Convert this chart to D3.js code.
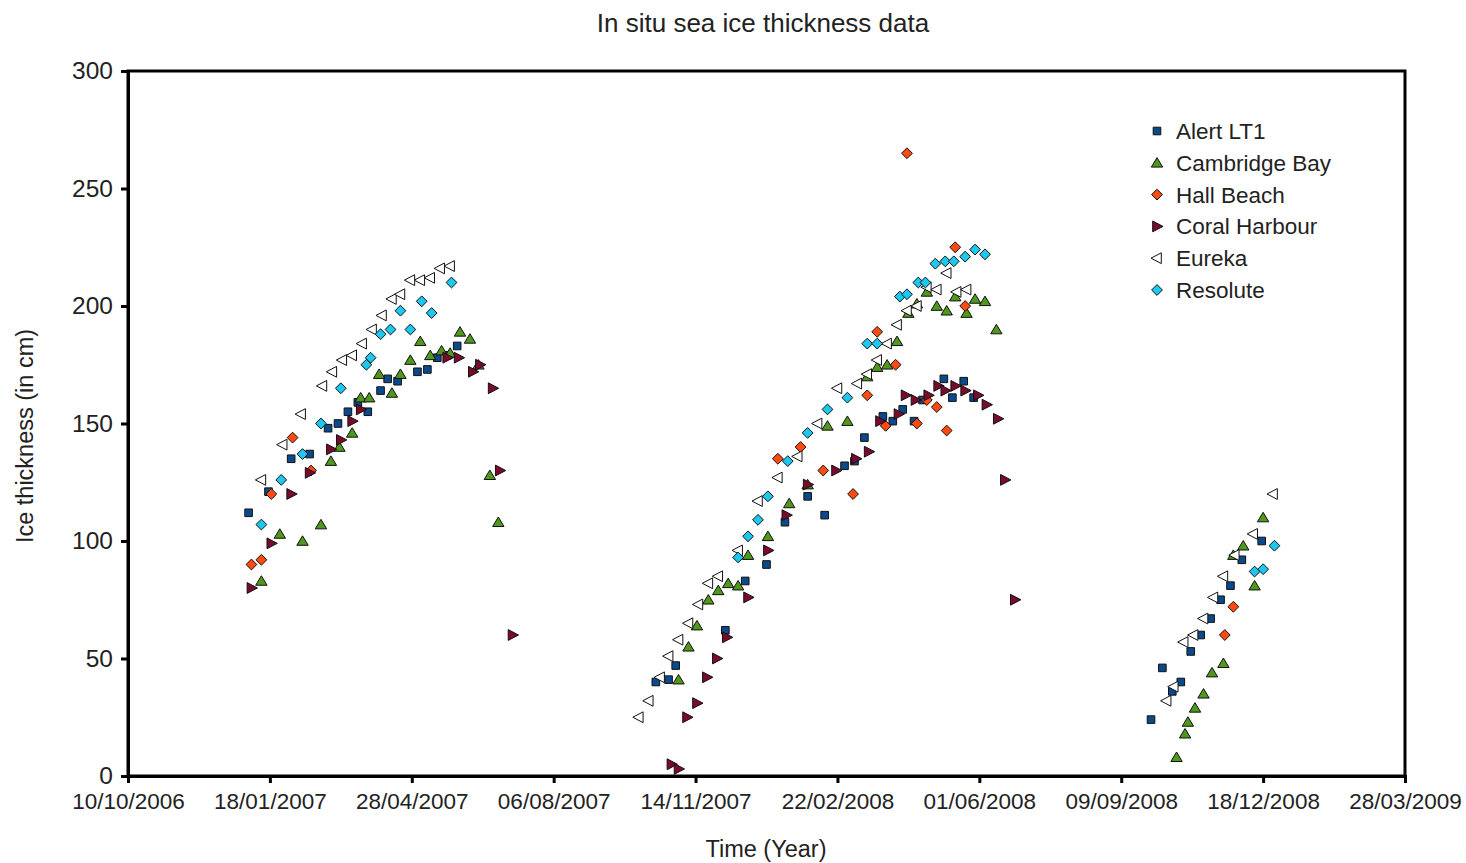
<!DOCTYPE html>
<html>
<head>
<meta charset="utf-8">
<script src="https://cdn.jsdelivr.net/npm/d3@7"></script>
<style>
  body { margin: 0; background: #fff; }
  svg { font-family: "Liberation Sans", Arial, sans-serif; }
</style>
</head>
<body>
<svg id="chart" width="1466" height="863"></svg>
<script>
// x values are days after 10/10/2006, y values are ice thickness in cm
const startDate = new Date(Date.UTC(2006, 9, 10));
const tickDays = [0, 100, 200, 300, 400, 500, 600, 700, 800, 900];
const yTicks = [0, 50, 100, 150, 200, 250, 300];

const alertDays = [85, 99, 115, 128, 141, 148, 155, 162, 169, 178, 183, 190, 204, 211, 218, 225, 232,
  372, 381, 386, 421, 435, 450, 463, 479, 491, 505, 512, 519, 532, 539, 546, 554, 560, 575, 581, 589, 596,
  721, 729, 736, 742, 749, 756, 763, 770, 777, 785, 799];
const alertCm = [112, 121, 135, 137, 148, 150, 155, 159, 155, 164, 169, 168, 172, 173, 178, 179, 183,
  40, 41, 47, 62, 83, 90, 108, 119, 111, 132, 134, 144, 153, 151, 156, 151, 160, 169, 161, 168, 161,
  24, 46, 36, 40, 53, 60, 67, 75, 81, 92, 100];

const cambridgeDays = [94, 107, 123, 136, 143, 149, 158, 164, 170, 177, 186, 192, 199, 206, 213, 221, 227, 234, 241, 247, 255, 261,
  388, 395, 401, 409, 416, 423, 430, 437, 451, 466, 479, 493, 507, 521, 528, 535, 542, 550, 556, 563, 570, 577, 583, 591, 597, 604, 612,
  739, 745, 747, 752, 758, 764, 772, 779, 786, 794, 800];
const cambridgeCm = [83, 103, 100, 107, 134, 140, 146, 161, 161, 171, 163, 171, 177, 185, 179, 181, 180, 189, 186, 175, 128, 108,
  41, 55, 64, 75, 79, 82, 81, 94, 102, 116, 124, 149, 151, 170, 174, 175, 185, 197, 201, 206, 200, 198, 204, 197, 203, 202, 190,
  8, 18, 23, 29, 35, 44, 48, 94, 98, 81, 110];

const hallDays = [87, 94, 101, 116, 129,
  458, 474, 490, 511, 521, 528, 534, 541, 549, 556, 563, 570, 577, 583, 590,
  773, 779];
const hallCm = [90, 92, 120, 144, 130,
  135, 140, 130, 120, 162, 189, 149, 175, 265, 150, 160, 157, 147, 225, 200,
  60, 72];

const coralDays = [87, 101, 115, 128, 143, 150, 158, 164, 225, 233, 243, 248, 257, 262, 271,
  383, 388, 394, 401, 408, 415, 422, 437, 451, 464, 479, 499, 513, 522, 530, 543, 548, 555, 564, 571, 576, 583, 590, 599, 605, 613, 618, 625];
const coralCm = [80, 99, 120, 129, 139, 143, 151, 156, 178, 178, 172, 175, 165, 130, 60,
  5, 3, 25, 31, 42, 50, 59, 76, 96, 111, 124, 130, 135, 138, 151, 154, 162, 160, 162, 166, 164, 166, 164, 162, 158, 152, 126, 75];

const eurekaDays = [94, 109, 122, 137, 144, 151, 158, 165, 172, 179, 186, 192, 199, 206, 213, 220, 227,
  360, 367, 375, 381, 388, 395, 402, 409, 416, 430, 444, 458, 472, 486, 500, 514, 521, 528, 535, 542, 549, 556, 563, 570, 577, 584, 591,
  732, 737, 744, 751, 758, 765, 772, 780, 793, 807];
const eurekaCm = [126, 141, 154, 166, 172, 177, 179, 184, 190, 196, 203, 205, 211, 211, 212, 216, 217,
  25, 32, 42, 51, 58, 65, 73, 82, 85, 96, 117, 127, 136, 150, 165, 167, 171, 177, 184, 192, 198, 200, 208, 207, 214, 206, 207,
  32, 38, 57, 60, 67, 76, 85, 94, 103, 120];

const resoluteDays = [94, 108, 123, 136, 150, 168, 171, 178, 185, 192, 199, 207, 214, 228,
  430, 437, 444, 451, 465, 479, 493, 507, 521, 528, 544, 549, 557, 562, 569, 576, 582, 590, 597, 604,
  794, 800, 808];
const resoluteCm = [107, 126, 137, 150, 165, 175, 178, 188, 190, 198, 190, 202, 197, 210,
  93, 102, 109, 119, 134, 146, 156, 161, 184, 184, 204, 205, 210, 210, 218, 219, 219, 221, 224, 222,
  87, 88, 98];

const stations = ["Alert LT1", "Cambridge Bay", "Hall Beach", "Coral Harbour", "Eureka", "Resolute"];
const stationDays = [alertDays, cambridgeDays, hallDays, coralDays, eurekaDays, resoluteDays];
const stationCm = [alertCm, cambridgeCm, hallCm, coralCm, eurekaCm, resoluteCm];

const fills = ["#0b4a8a", "#4f981c", "#ff4b12", "#7a0a2a", "#ffffff", "#1cc8ef"];
const shapes = [
  "M-3.8,-3.8h7.6v7.6h-7.6Z",
  "M0,-5.2L5.7,4.3L-5.7,4.3Z",
  "M0,-5.4L5.4,0L0,5.4L-5.4,0Z",
  "M-4.3,-5.4L6,0L-4.3,5.4Z",
  "M4.3,-5.4L-6,0L4.3,5.4Z",
  "M0,-5.4L5.4,0L0,5.4L-5.4,0Z"
];

const svg = d3.select("#chart");
const margin = { left: 128, right: 61, top: 71, bottom: 87 };
const width = +svg.attr("width");
const height = +svg.attr("height");

const day = d => d3.utcDay.offset(startDate, d);

const x = d3.scaleUtc()
  .domain([day(0), day(900)])
  .range([margin.left, width - margin.right]);
const y = d3.scaleLinear()
  .domain([0, 300])
  .range([height - margin.bottom, margin.top]);

const fmt = d3.utcFormat("%d/%m/%Y");

// frame
svg.append("rect")
  .attr("x", margin.left)
  .attr("y", margin.top)
  .attr("width", width - margin.right - margin.left)
  .attr("height", height - margin.bottom - margin.top)
  .attr("fill", "none")
  .attr("stroke", "#000")
  .attr("stroke-width", 3);

const xAxis = svg.append("g")
  .attr("transform", `translate(0,${height - margin.bottom})`)
  .call(d3.axisBottom(x).tickValues(tickDays.map(day)).tickFormat(fmt).tickSize(7).tickPadding(10));
xAxis.select(".domain").attr("stroke-width", 3);
xAxis.selectAll(".tick line").attr("stroke-width", 3);
xAxis.selectAll("text").attr("font-size", "22.5px").attr("fill", "#222").attr("font-family", "Liberation Sans, Arial, sans-serif");

const yAxis = svg.append("g")
  .attr("transform", `translate(${margin.left},0)`)
  .call(d3.axisLeft(y).tickValues(yTicks).tickSize(7).tickPadding(8));
yAxis.select(".domain").attr("stroke-width", 3);
yAxis.selectAll(".tick line").attr("stroke-width", 3);
yAxis.selectAll("text").attr("font-size", "24.5px").attr("fill", "#222").attr("font-family", "Liberation Sans, Arial, sans-serif");

// points
stations.forEach((name, i) => {
  const pts = stationDays[i].map((d, j) => ({ d: d, v: stationCm[i][j] }));
  svg.append("g").selectAll("path")
    .data(pts)
    .enter()
    .append("path")
    .attr("d", shapes[i])
    .attr("transform", p => `translate(${x(day(p.d))},${y(p.v)})`)
    .attr("fill", fills[i])
    .attr("stroke", "#111")
    .attr("stroke-width", 1);
});

// legend
const legend = svg.append("g").attr("transform", "translate(1157,131)");
stations.forEach((name, i) => {
  const row = legend.append("g").attr("transform", `translate(0,${i * 31.8})`);
  row.append("path")
    .attr("d", shapes[i])
    .attr("fill", fills[i])
    .attr("stroke", "#111")
    .attr("stroke-width", 1);
  row.append("text")
    .attr("x", 19)
    .attr("y", 8)
    .attr("font-size", "22.5px")
    .attr("fill", "#222")
    .text(name);
});

svg.append("text")
  .attr("x", 763)
  .attr("y", 32)
  .attr("text-anchor", "middle")
  .attr("font-size", "26px")
  .attr("fill", "#222")
  .text("In situ sea ice thickness data");

svg.append("text")
  .attr("x", 766)
  .attr("y", 857)
  .attr("text-anchor", "middle")
  .attr("font-size", "23.5px")
  .attr("fill", "#222")
  .text("Time (Year)");

svg.append("text")
  .attr("transform", "translate(33,436) rotate(-90)")
  .attr("text-anchor", "middle")
  .attr("font-size", "23.5px")
  .attr("fill", "#222")
  .text("Ice thickness (in cm)");
</script>
</body>
</html>
